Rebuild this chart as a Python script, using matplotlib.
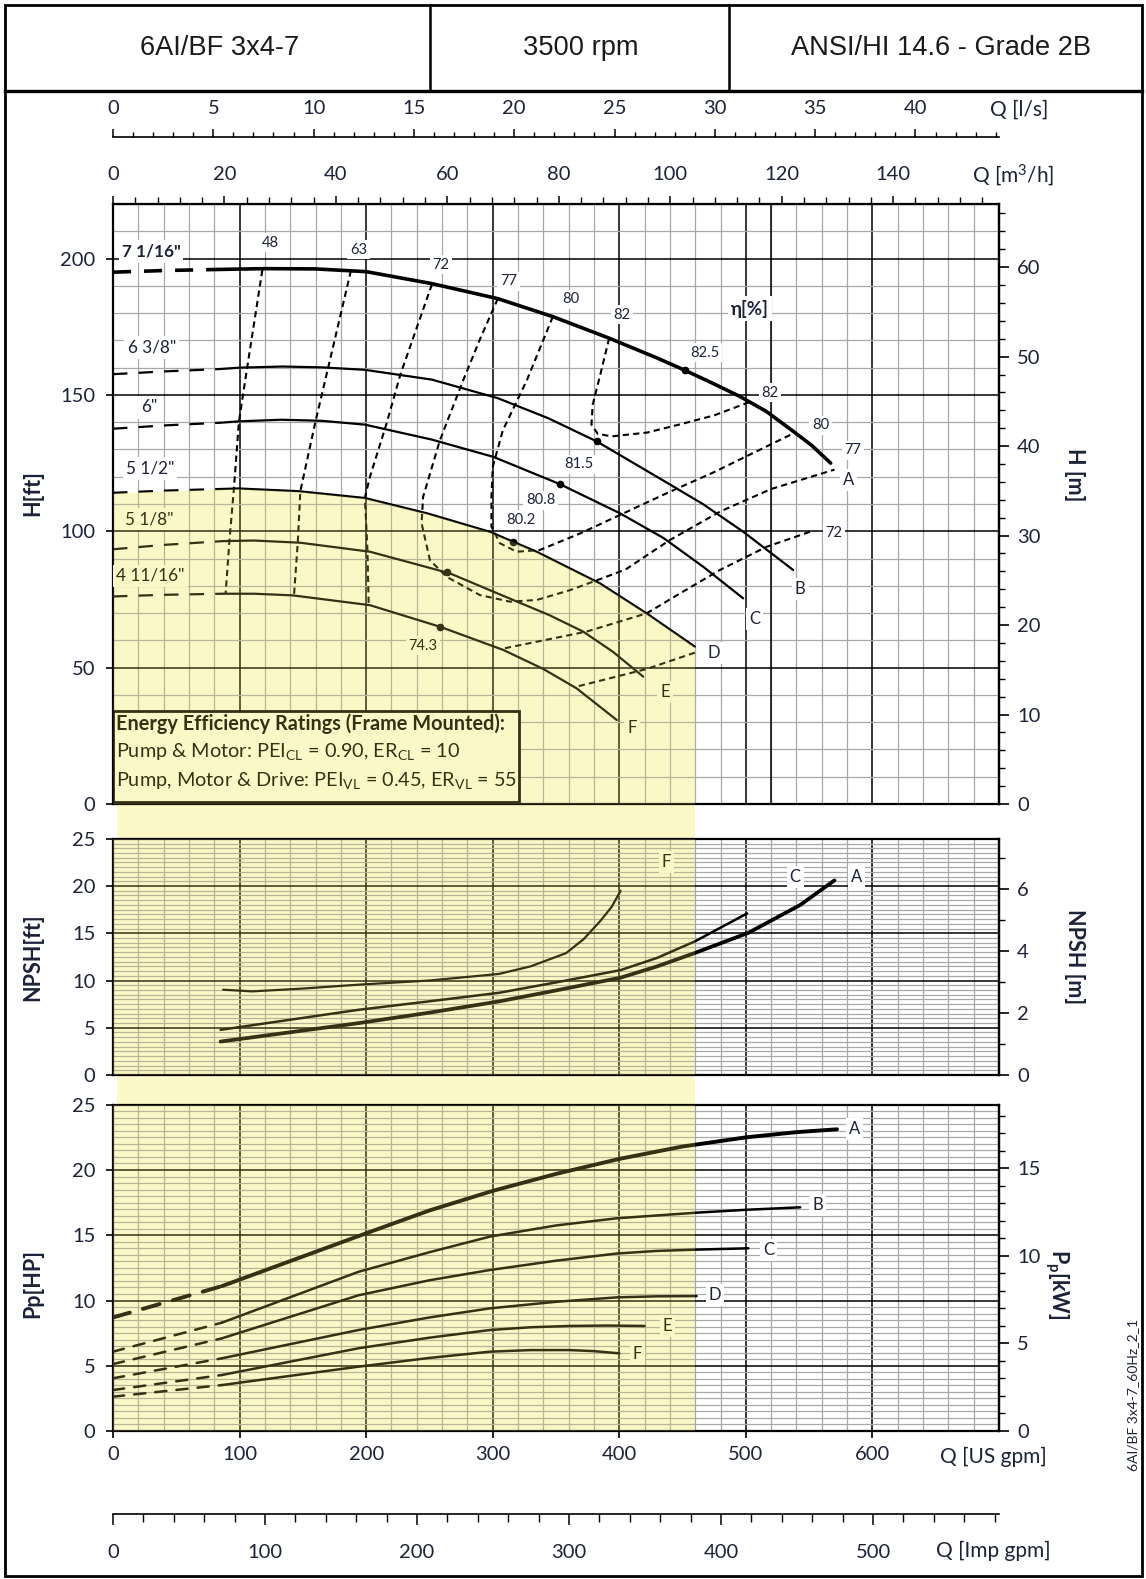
import matplotlib
matplotlib.use('Agg')
import matplotlib.pyplot as plt
import matplotlib.transforms as mtransforms
from matplotlib.lines import Line2D
from matplotlib.patches import Rectangle
from matplotlib.ticker import MultipleLocator, FixedLocator

plt.rcParams['font.family'] = ['Lato', 'DejaVu Sans']
plt.rcParams['mathtext.fontset'] = 'custom'
plt.rcParams['mathtext.rm'] = 'Lato'
plt.rcParams['mathtext.it'] = 'Lato:italic'
plt.rcParams['mathtext.bf'] = 'Lato:bold'

# ---------------- data (flow Q in US gpm) ----------------
# head curves [ft]: dashed low-flow part + solid part
A_DASH_Q = [0, 40, 83]
A_DASH_H = [195.0, 195.6, 196.0]
A_Q = [83, 120, 160, 200, 252, 304, 347.5, 392, 430, 452, 475, 495, 516, 537, 552, 567]
A_H = [196.0, 196.3, 196.2, 195.2, 190.8, 185.3, 178.7, 170.8, 163.5, 159.0, 154.0, 149.5, 144.0, 136.8, 131.5, 125.0]

B_DASH_Q = [0, 40, 85]
B_DASH_H = [157.6, 158.6, 159.5]
B_Q = [85, 100, 134, 165, 199, 252, 304, 343.6, 382, 435.5, 466, 498, 537.4]
B_H = [159.5, 160.0, 160.4, 160.1, 159.2, 155.6, 148.8, 141.5, 133.0, 118.4, 110.0, 99.8, 85.8]

C_DASH_Q = [0, 40, 85]
C_DASH_H = [137.6, 138.8, 139.8]
C_Q = [85, 99, 133, 165, 199, 252, 300.4, 353, 400.5, 435, 466.3, 497.9]
C_H = [139.8, 140.3, 140.9, 140.5, 139.1, 133.6, 127.3, 117.3, 106.6, 97.5, 87.0, 75.4]

D_DASH_Q = [0, 40, 85]
D_DASH_H = [114.1, 114.9, 115.5]
D_Q = [85, 99, 146.6, 199, 248, 297.8, 334.7, 384.7, 421.6, 459.7]
D_H = [115.5, 115.7, 114.7, 112.2, 106.6, 99.8, 92.5, 80.9, 69.9, 57.7]

E_DASH_Q = [0, 40, 87]
E_DASH_H = [93.4, 95.0, 96.4]
E_Q = [87, 111.5, 148, 203, 266, 316.2, 345, 371.5, 395, 418.9]
E_H = [96.4, 96.6, 95.8, 92.5, 84.6, 74.8, 69.2, 63.2, 55.8, 46.7]

F_DASH_Q = [0, 40, 87]
F_DASH_H = [76.1, 76.7, 77.1]
F_Q = [87, 111.5, 142, 203, 258.3, 308.3, 340, 366.3, 398]
F_H = [77.1, 77.1, 76.5, 72.9, 65.0, 56.5, 49.5, 42.4, 30.8]

IMPELLERS = ['7 1/16"', '6 3/8"', '6"', '5 1/2"', '5 1/8"', '4 11/16"']
IMP_LABEL_Q = [30, 30.6, 28.7, 29.2, 28.7, 29.7]
IMP_LABEL_H = [202.6, 167.4, 145.4, 123.0, 104.4, 83.7]

CURVE_NAMES = ['A', 'B', 'C', 'D', 'E', 'F']
CURVE_LABEL_Q = [581, 543, 507, 474.5, 436, 410]
CURVE_LABEL_H = [118.8, 78.7, 68.0, 55.5, 41.2, 27.7]

# best efficiency points
BEP_Q = [452, 382, 353, 316, 264, 258.3]
BEP_H = [159.0, 133.0, 117.3, 96.2, 84.9, 65.0]

# efficiency iso-lines [%]
ETA48_Q = [118, 106, 99.5, 95.5, 92, 89]
ETA48_H = [195.8, 160, 140.3, 115.5, 96.6, 77.3]
ETA63_Q = [188, 170, 160, 148, 146, 143]
ETA63_H = [195.6, 160, 140.3, 114.7, 96, 76.5]
ETA72L_Q = [252, 227, 216, 203, 199, 201, 202]
ETA72L_H = [190.6, 157.4, 139.3, 120, 112.3, 93.6, 73.1]
ETA77_Q = [304, 290, 276.7, 258.3, 245, 243.8, 250.4, 263.6, 289.9, 313.6, 334.7, 361, 385, 405,
           440, 479.5, 520, 570]
ETA77_H = [185.3, 170.5, 155.4, 133.4, 112.6, 102.9, 89.4, 83.3, 76.6, 74.2, 74.8, 78.4, 82.5, 86,
           96.8, 107.2, 115.5, 122.6]
ETA80_Q = [347.5, 327, 308, 300, 299, 299, 305.7, 319, 337, 369, 403, 440, 474, 538]
ETA80_H = [178.7, 155.4, 137, 123.6, 112.6, 101.7, 95.6, 92.5, 93.1, 99.2, 106.5, 114.5, 121.5, 136]
ETA82_Q = [392, 385.6, 379, 378, 383, 394, 422, 448, 475, 503]
ETA82_H = [170.8, 158.6, 146.4, 139.1, 135.7, 134.8, 136.2, 139.2, 142.5, 147.4]
ETA72R_Q = [550.6, 516.3, 479.5, 447.9, 421.6, 374, 308.3]
ETA72R_H = [99.8, 94.3, 85.8, 77.2, 69.9, 63.2, 57]
ETA_LOW_Q = [459.7, 421.6, 366]
ETA_LOW_H = [55.5, 49.5, 43]

ETA_TEXT = ['48', '63', '72', '77', '80', '82', '82.5', '82', '80', '77', '72', '81.5', '80.8', '80.2', '74.3']
ETA_TEXT_Q = [124.7, 193.9, 259.1, 312.4, 361.8, 402.3, 467.5, 519.3, 559, 584.5, 569.4, 368, 337.9, 322, 244.9]
ETA_TEXT_H = [205.8, 203.2, 197.7, 191.7, 185.1, 179.4, 165.5, 150.8, 138.9, 129.7, 99.5, 124.6, 111.3,
              104.3, 58.1]

# NPSH required [ft]
NPSH_A_Q = [85, 194, 250, 305, 350, 401, 430, 460, 502, 543, 570]
NPSH_A = [3.54, 5.49, 6.6, 7.79, 8.95, 10.3, 11.5, 12.93, 15.05, 18.0, 20.6]
NPSH_C_Q = [85, 194, 250, 305, 350, 401, 430, 460, 501]
NPSH_C = [4.78, 6.9, 7.8, 8.7, 9.8, 11.1, 12.4, 14.16, 17.1]
NPSH_F_Q = [87, 110, 150, 194, 250, 305, 330, 358, 372, 385, 394, 401]
NPSH_F = [9.03, 8.85, 9.15, 9.56, 10.0, 10.7, 11.5, 12.9, 14.4, 16.3, 17.8, 19.5]

# power [HP]
P_DASH_Q = [0, 86]
P_A_DASH = [8.7, 11.1]
P_B_DASH = [6.08, 8.3]
P_C_DASH = [5.13, 7.1]
P_D_DASH = [4.04, 5.57]
P_E_DASH = [3.14, 4.29]
P_F_DASH = [2.63, 3.52]
P_A_Q = [86, 200, 250, 300, 350, 400, 450, 500, 540, 572]
P_A = [11.1, 15.15, 16.9, 18.4, 19.7, 20.85, 21.8, 22.5, 22.9, 23.12]
P_B_Q = [86, 194, 250, 298, 350, 398, 461, 500, 543]
P_B = [8.3, 12.2, 13.7, 14.9, 15.75, 16.3, 16.73, 16.95, 17.14]
P_C_Q = [86, 194, 250, 298, 350, 398, 430, 461, 502]
P_C = [7.1, 10.4, 11.55, 12.34, 13.05, 13.6, 13.8, 13.9, 14.0]
P_D_Q = [86, 194, 250, 298, 350, 398, 430, 461]
P_D = [5.57, 7.74, 8.7, 9.4, 9.9, 10.24, 10.32, 10.34]
P_E_Q = [86, 194, 250, 298, 330, 361, 390, 420]
P_E = [4.29, 6.34, 7.15, 7.74, 7.95, 8.05, 8.08, 8.05]
P_F_Q = [86, 194, 250, 298, 330, 361, 380, 400]
P_F = [3.52, 4.93, 5.6, 6.08, 6.2, 6.2, 6.12, 5.95]
P_LABEL_Q = [586, 556.6, 517.7, 475.5, 438.1, 414.2]
P_LABEL = [23.15, 17.29, 13.9, 10.4, 8.03, 5.87]

PREF_Q_MAX = 460          # end of shaded preferred range
EXTRA_LINE_Q = 520        # extra heavy grid line in head panel

FT_PER_M = 3.28084
KW_PER_HP = 0.7457
GPM_TO_M3H = 0.2271247
GPM_TO_LS = 0.0630902
GPM_PER_IMP = 1.20095

US_GPM_TICKS = [0, 100, 200, 300, 400, 500, 600]
M3H_TICKS = [0, 20, 40, 60, 80, 100, 120, 140]
LS_TICKS = [0, 5, 10, 15, 20, 25, 30, 35, 40]
IMP_TICKS = [0, 100, 200, 300, 400, 500]

# ---------------- style ----------------
W, H = 1146, 1579
TXT = '#1c2238'
GRID_GRAY = '#a8a8a8'
YEL_BASE = '#FFFFE4'
OVER = '#F0E060'
OVER_A = 0.22
TICK_FS = 14.5

fig = plt.figure(figsize=(W / 100, H / 100), dpi=100)


def add_axes_px(x0, y0, x1, y1):
    return fig.add_axes([x0 / W, 1 - y1 / H, (x1 - x0) / W, (y1 - y0) / H])


def ftext(x, y, s, **kw):
    fig.text(x / W, 1 - y / H, s, **kw)


X0, X1 = 113, 999
ax_h = add_axes_px(X0, 204, X1, 804)
ax_n = add_axes_px(X0, 838.8, X1, 1075)
ax_p = add_axes_px(X0, 1104.75, X1, 1431)


def setup(ax, ymax, ymaj, ymin):
    ax.set_xlim(0, 700)
    ax.set_ylim(0, ymax)
    ax.xaxis.set_major_locator(FixedLocator(US_GPM_TICKS))
    ax.xaxis.set_minor_locator(MultipleLocator(20))
    ax.yaxis.set_major_locator(MultipleLocator(ymaj))
    ax.yaxis.set_minor_locator(MultipleLocator(ymin))
    ax.set_axisbelow(True)
    ax.grid(which='minor', color=GRID_GRAY, lw=0.9)
    ax.grid(which='major', color='black', lw=1.1)
    ax.tick_params(which='minor', length=0)
    ax.tick_params(axis='y', which='major', length=4.7, width=1.2, pad=8, labelsize=TICK_FS,
                   labelcolor=TXT)
    ax.tick_params(axis='x', which='major', length=0, labelbottom=False)
    for s in ax.spines.values():
        s.set_linewidth(1.6)


setup(ax_h, 220, 50, 10)
setup(ax_n, 25, 5, 0.5)
setup(ax_p, 25, 5, 0.5)
ax_h.axvline(EXTRA_LINE_Q, color='black', lw=1.1, zorder=0.6)
ax_p.tick_params(axis='x', which='major', length=5, width=1.2, labelbottom=True, pad=6,
                 labelsize=TICK_FS, labelcolor=TXT)


def right_axis(ax, f, finv, maj, mnr):
    sec = ax.secondary_yaxis('right', functions=(f, finv))
    sec.yaxis.set_major_locator(MultipleLocator(maj))
    sec.yaxis.set_minor_locator(MultipleLocator(mnr))
    sec.tick_params(which='major', length=7, width=1.2, pad=6, labelsize=TICK_FS, labelcolor=TXT)
    sec.tick_params(which='minor', length=4.5, width=1.0)
    sec.spines['right'].set_linewidth(1.6)
    return sec


right_axis(ax_h, lambda f: f / FT_PER_M, lambda m: m * FT_PER_M, 10, 2)
right_axis(ax_n, lambda f: f / FT_PER_M, lambda m: m * FT_PER_M, 2, 1)
right_axis(ax_p, lambda hp: hp * KW_PER_HP, lambda kw: kw / KW_PER_HP, 5, 1)

# m3/h scale on top of head panel
sec_m3 = ax_h.secondary_xaxis('top', functions=(lambda q: q * GPM_TO_M3H, lambda m: m / GPM_TO_M3H))
sec_m3.xaxis.set_major_locator(FixedLocator(M3H_TICKS))
sec_m3.xaxis.set_minor_locator(MultipleLocator(4))
sec_m3.tick_params(which='major', length=6, width=1.1, pad=9, labelsize=TICK_FS, labelcolor=TXT)
sec_m3.tick_params(which='minor', length=5, width=1.0)

# l/s scale
ax_ls = add_axes_px(X0, 135.5, X1, 136.5)
ax_ls.set_xlim(0, 700 * GPM_TO_LS)
ax_ls.set_ylim(0, 1)
ax_ls.patch.set_visible(False)
for k in ('top', 'left', 'right'):
    ax_ls.spines[k].set_visible(False)
ax_ls.spines['bottom'].set_linewidth(1.2)
ax_ls.set_yticks([])
ax_ls.xaxis.set_major_locator(FixedLocator(LS_TICKS))
ax_ls.xaxis.set_minor_locator(MultipleLocator(1))
ax_ls.tick_params(axis='x', which='both', direction='in', bottom=True, top=False,
                  labelbottom=False, labeltop=True, pad=13, labelsize=TICK_FS, labelcolor=TXT)
ax_ls.tick_params(axis='x', which='major', length=6, width=1.1)
ax_ls.tick_params(axis='x', which='minor', length=3.5, width=1.0)

# Imp gpm scale
ax_imp = add_axes_px(X0, 1512.5, X1, 1513.5)
ax_imp.set_xlim(0, 700 / GPM_PER_IMP)
ax_imp.set_ylim(0, 1)
ax_imp.patch.set_visible(False)
for k in ('top', 'left', 'right'):
    ax_imp.spines[k].set_visible(False)
ax_imp.spines['bottom'].set_linewidth(1.2)
ax_imp.set_yticks([])
ax_imp.xaxis.set_major_locator(FixedLocator(IMP_TICKS))
ax_imp.xaxis.set_minor_locator(MultipleLocator(20))
ax_imp.tick_params(axis='x', which='both', direction='out', pad=14, labelsize=TICK_FS, labelcolor=TXT)
ax_imp.tick_params(axis='x', which='major', length=8, width=1.1)
ax_imp.tick_params(axis='x', which='minor', length=6, width=1.0)

# ---------------- shaded preferred range ----------------
D_ALL_Q = D_DASH_Q + D_Q[1:]
D_ALL_H = D_DASH_H + D_H[1:]
ax_h.fill_between(D_ALL_Q, 0, D_ALL_H, color=YEL_BASE, lw=0, zorder=0.2)
ax_h.fill_between(D_ALL_Q, 0, D_ALL_H, color=OVER, alpha=OVER_A, lw=0, zorder=4)
for ax in (ax_n, ax_p):
    ax.axvspan(0, PREF_Q_MAX, color=YEL_BASE, lw=0, zorder=0.2)
    ax.axvspan(0, PREF_Q_MAX, color=OVER, alpha=OVER_A, lw=0, zorder=4)
gap_tr = mtransforms.blended_transform_factory(ax_p.transData, fig.transFigure)
for top_px, bot_px in ((804, 838.8), (1075, 1104.75)):
    fig.add_artist(Rectangle((3, 1 - bot_px / H), PREF_Q_MAX - 3, (bot_px - top_px) / H,
                             transform=gap_tr, facecolor='#FCF8C8', edgecolor='none', zorder=0))

# ---------------- head curves ----------------
heads = [(A_DASH_Q, A_DASH_H, A_Q, A_H), (B_DASH_Q, B_DASH_H, B_Q, B_H),
         (C_DASH_Q, C_DASH_H, C_Q, C_H), (D_DASH_Q, D_DASH_H, D_Q, D_H),
         (E_DASH_Q, E_DASH_H, E_Q, E_H), (F_DASH_Q, F_DASH_H, F_Q, F_H)]
for i, (qd, hd, qs, hs) in enumerate(heads):
    lw = 2.6 if i == 0 else 1.6
    dash = (5.0, 3.6) if i == 0 else (6.5, 5.0)
    ax_h.plot(qd, hd, color='k', lw=lw, dashes=dash, dash_capstyle='butt', zorder=3)
    ax_h.plot(qs, hs, color='k', lw=lw, solid_capstyle='round', solid_joinstyle='round', zorder=3)

eta_lines = [(ETA48_Q, ETA48_H), (ETA63_Q, ETA63_H), (ETA72L_Q, ETA72L_H), (ETA77_Q, ETA77_H),
             (ETA80_Q, ETA80_H), (ETA82_Q, ETA82_H), (ETA72R_Q, ETA72R_H), (ETA_LOW_Q, ETA_LOW_H)]
for q, h in eta_lines:
    ax_h.plot(q, h, color='k', lw=1.5, dashes=(3.0, 2.0), zorder=3)

ax_h.plot(BEP_Q, BEP_H, 'o', color='k', ms=4.5, zorder=3.2)


def in_pref(q, h):
    if q > PREF_Q_MAX:
        return False
    for qa, qb, ha, hb in zip(D_ALL_Q[:-1], D_ALL_Q[1:], D_ALL_H[:-1], D_ALL_H[1:]):
        if qa <= q <= qb:
            return h <= ha + (hb - ha) * (q - qa) / (qb - qa)
    return False


def label(ax, q, h, s, size=12, weight='normal', yellow=None):
    if yellow is None:
        yellow = in_pref(q, h)
    fc = YEL_BASE if yellow else 'white'
    ax.text(q, h, s, ha='center', va='center', fontsize=size, fontweight=weight,
            color='black' if yellow else TXT, zorder=3.5 if yellow else 5,
            bbox=dict(boxstyle='square,pad=0.18', facecolor=fc, edgecolor='none'))


for i, s in enumerate(IMPELLERS):
    label(ax_h, IMP_LABEL_Q[i], IMP_LABEL_H[i], s, size=12.3, weight='bold' if i == 0 else 'normal')
for i, s in enumerate(CURVE_NAMES):
    label(ax_h, CURVE_LABEL_Q[i], CURVE_LABEL_H[i], s)
for s, q, h in zip(ETA_TEXT, ETA_TEXT_Q, ETA_TEXT_H):
    label(ax_h, q, h, s, size=10.6)
label(ax_h, 503.3, 181.6, r'η[%]', size=13.5, weight='bold')

# energy efficiency box
ax_h.add_patch(Rectangle((0, 0.6), 321, 33.5, facecolor=YEL_BASE, edgecolor='black', lw=2.0,
                         zorder=3.6, clip_on=False))
box_txt = dict(fontsize=14.3, va='center', ha='left', color='black', zorder=3.7)
ax_h.text(2, 29.3, 'Energy Efficiency Ratings (Frame Mounted):', fontweight='bold', **box_txt)
ax_h.text(2, 19.1, r'Pump & Motor: PEI$_\mathrm{CL}$ = 0.90, ER$_\mathrm{CL}$ = 10', **box_txt)
ax_h.text(2, 8.6, r'Pump, Motor & Drive: PEI$_\mathrm{VL}$ = 0.45, ER$_\mathrm{VL}$ = 55', **box_txt)

# ---------------- NPSH ----------------
ax_n.plot(NPSH_A_Q, NPSH_A, color='k', lw=2.7, solid_capstyle='round', solid_joinstyle='round', zorder=3)
ax_n.plot(NPSH_C_Q, NPSH_C, color='k', lw=1.8, solid_capstyle='round', solid_joinstyle='round', zorder=3)
ax_n.plot(NPSH_F_Q, NPSH_F, color='k', lw=1.6, solid_capstyle='round', solid_joinstyle='round', zorder=3)
label(ax_n, 437.3, 22.5, 'F', yellow=True)
label(ax_n, 539, 21.0, 'C', yellow=False)
label(ax_n, 587.7, 21.0, 'A', yellow=False)

# ---------------- power ----------------
p_curves = [(P_A_DASH, P_A_Q, P_A), (P_B_DASH, P_B_Q, P_B), (P_C_DASH, P_C_Q, P_C),
            (P_D_DASH, P_D_Q, P_D), (P_E_DASH, P_E_Q, P_E), (P_F_DASH, P_F_Q, P_F)]
for i, (pd_, q, p) in enumerate(p_curves):
    lw = 2.8 if i == 0 else 1.8
    dash = (4.5, 3.5) if i == 0 else (4.5, 4.0)
    ax_p.plot(P_DASH_Q, pd_, color='k', lw=lw, dashes=dash, dash_capstyle='round', zorder=3)
    ax_p.plot(q, p, color='k', lw=lw, solid_capstyle='round', solid_joinstyle='round', zorder=3)
    label(ax_p, P_LABEL_Q[i], P_LABEL[i], CURVE_NAMES[i], yellow=P_LABEL_Q[i] < PREF_Q_MAX)

# ---------------- axis titles ----------------
bold = dict(fontsize=15.5, fontweight='bold', color=TXT, ha='center', va='center')
ftext(33, 493, 'H[ft]', rotation=90, **bold)
ftext(33, 957, 'NPSH[ft]', rotation=90, **bold)
ftext(33, 1284, 'Pp[HP]', rotation=90, **bold)
ftext(1075, 475, 'H [m]', rotation=270, **bold)
ftext(1075, 957, 'NPSH [m]', rotation=270, **bold)
ftext(1057, 1284, r'P$_\mathbf{p}$[kW]', rotation=270, **bold)
reg = dict(fontsize=15, color=TXT, ha='center', va='center')
ftext(1019, 110, 'Q [l/s]', **reg)
ftext(1013, 175, r'Q [m$^3$/h]', **reg)
ftext(993, 1457, 'Q [US gpm]', **reg)
ftext(993, 1551, 'Q [Imp gpm]', **reg)
ftext(1133, 1395, '6AI/BF 3x4-7_60Hz_2_1', rotation=90, fontsize=10, color=TXT,
      ha='center', va='center')

# ---------------- header and frame ----------------
fig.add_artist(Rectangle((5 / W, 1 - 1576 / H), 1137 / W, 1571 / H, transform=fig.transFigure,
                         facecolor='none', edgecolor='black', lw=2.0))
fig.add_artist(Line2D([5 / W, 1142 / W], [1 - 91 / H, 1 - 91 / H], color='black', lw=2.4))
for xd in (430, 729):
    fig.add_artist(Line2D([xd / W, xd / W], [1 - 5 / H, 1 - 91 / H], color='black', lw=1.8))
hdr = dict(fontsize=19.6, family=['Liberation Sans', 'DejaVu Sans'], color='#1a1a1a',
           ha='center', va='center')
ftext(219.5, 48, '6AI/BF 3x4-7', **hdr)
ftext(580.5, 48, '3500 rpm', **hdr)
ftext(941, 48, 'ANSI/HI 14.6 - Grade 2B', **hdr)

fig.savefig('out.png', dpi=100)
